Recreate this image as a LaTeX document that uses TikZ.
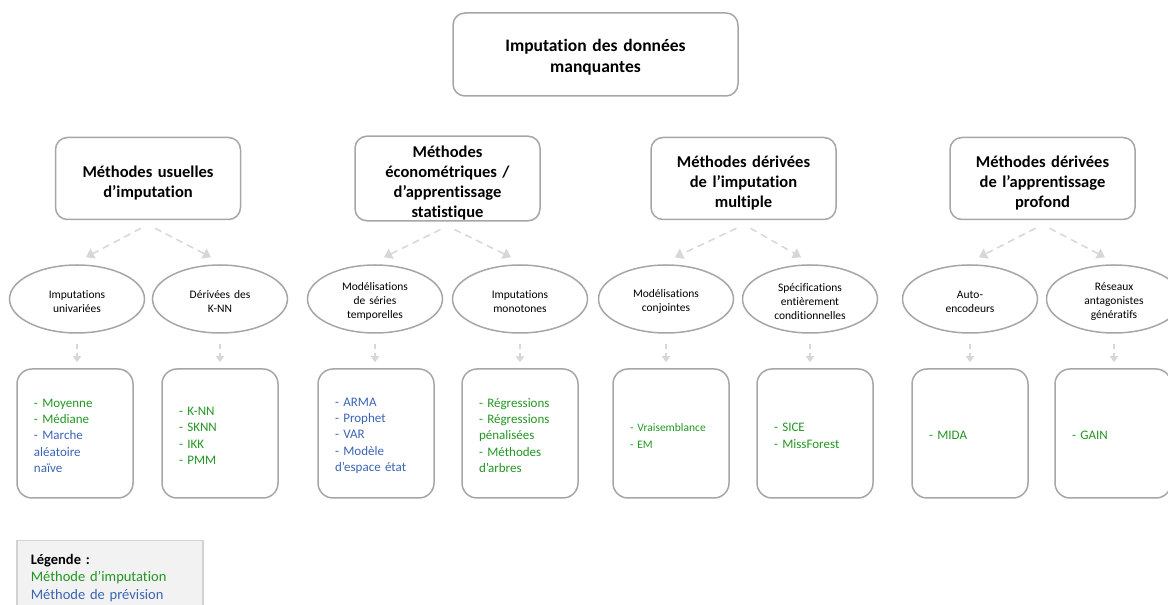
\documentclass[tikz,border=0pt]{standalone}
\usepackage{fontspec}
\setmainfont{Carlito}[Ligatures=NoCommon]
\usetikzlibrary{arrows.meta,positioning,shapes.geometric,calc}
\definecolor{imputgreen}{RGB}{34,150,34}
\definecolor{previsblue}{RGB}{58,100,180}
\definecolor{boxgray}{RGB}{166,166,166}
\definecolor{arrowgray}{RGB}{215,215,215}
\definecolor{legendfill}{RGB}{242,242,242}
\newcommand{\imput}[1]{\textcolor{imputgreen}{#1}}
\newcommand{\previs}[1]{\textcolor{previsblue}{#1}}

\begin{document}
\begin{tikzpicture}[
  x=1pt, y=1pt,
  root/.style={rectangle, draw=boxgray, line width=1.5pt,
    rounded corners=12pt, minimum width=285pt, minimum height=83pt,
    text width=260pt, text height=18pt, align=center,
    font=\fontsize{17.5}{21.5}\selectfont\bfseries},
  family/.style={rectangle, draw=boxgray, line width=1.5pt,
    rounded corners=12pt, minimum width=185pt, minimum height=82pt,
    text width=175pt, text height=20pt, inner sep=1pt, align=center,
    font=\fontsize{16.5}{20}\selectfont\bfseries},
  sub/.style={ellipse, draw=boxgray, line width=1.5pt,
    minimum width=135pt, minimum height=68pt, inner sep=0pt,
    text width=95pt, text height=13pt, align=center,
    font=\fontsize{11.5}{14}\selectfont},
  list/.style={rectangle, draw=boxgray, line width=1.5pt,
    rounded corners=15pt, minimum width=116pt, minimum height=129pt,
    text width=82pt, text height=13pt, align=left,
    font=\fontsize{13}{16.3}\selectfont},
  legend/.style={rectangle, draw={rgb,255:red,210;green,210;blue,210},
    fill=legendfill, line width=1.5pt, text width=158pt, inner xsep=14pt,
    minimum height=74pt, align=left, font=\fontsize{14.5}{17.5}\selectfont},
  arr/.style={-{Triangle[length=8pt,width=11pt]}, draw=arrowgray,
    line width=1.5pt, dash pattern=on 7pt off 5pt},
  darr/.style={-{Triangle[length=6pt,width=8pt]}, draw=arrowgray,
    line width=1.2pt, dash pattern=on 5pt off 4pt}
]
  \useasboundingbox (0,0) rectangle (1168,605);

  % Root
  \node[root] (root) at (595.5,550.5) {Imputation des données\\manquantes};

  % Families of methods
  \node[family] (usual) at (148,426.5) {Méthodes usuelles\\d’imputation};
  \node[family] (econo) at (447.5,426.5) {Méthodes\\économétriques /\\d’apprentissage\\statistique};
  \node[family] (multi) at (743.5,426.5) {Méthodes dérivées\\de l’imputation\\multiple};
  \node[family] (deep) at (1042.5,426.5) {Méthodes dérivées\\de l’apprentissage\\profond};

  % Sub-families
  \node[sub] (univ) at (77,306) {Imputations\\univariées};
  \node[sub] (knn) at (220,306) {Dérivées des\\K-NN};
  \node[sub] (series) at (375,306) {Modélisations\\de séries\\temporelles};
  \node[sub] (mono) at (520,306) {Imputations\\monotones};
  \node[sub] (joint) at (666,306) {Modélisations\\conjointes};
  \node[sub] (fcs) at (810,306) {Spécifications\\entièrement\\conditionnelles};
  \node[sub] (autoenc) at (970,306) {Auto-\\encodeurs};
  \node[sub] (gan) at (1114,306) {Réseaux\\antagonistes\\génératifs};

  % Method lists
  \node[list] (univlist) at (75,171.5) {\imput{- Moyenne}\\\imput{- Médiane}\\\previs{- Marche\\aléatoire\\naïve}};
  \node[list] (knnlist) at (220,171.5) {\imput{- K-NN\\- SKNN\\- IKK\\- PMM}};
  \node[list] (serieslist) at (376,171.5) {\previs{- ARMA\\- Prophet\\- VAR\\- Modèle\\d’espace état}};
  \node[list] (monolist) at (520,171.5) {\imput{- Régressions\\- Régressions\\pénalisées\\- Méthodes\\d’arbres}};
  \node[list, font=\fontsize{11.5}{16.5}\selectfont] (jointlist) at (671,171.5) {\imput{- Vraisemblance\\- EM}};
  \node[list] (fcslist) at (815,171.5) {\imput{- SICE\\- MissForest}};
  \node[list] (autoenclist) at (970,171.5) {\imput{- MIDA}};
  \node[list] (ganlist) at (1113,171.5) {\imput{- GAIN}};

  % Legend
  \node[legend, anchor=north west] (legend) at (16,65) {\textbf{Légende :}\\\imput{Méthode d’imputation}\\\previs{Méthode de prévision}};

  % Arrows
  \foreach \fam/\lsub/\rsub in {usual/univ/knn, econo/series/mono, multi/joint/fcs, deep/autoenc/gan} {
    \draw[arr] ($(\fam.south)+(-7,-8)$) -- ($(\lsub.north)+(9,7)$);
    \draw[arr] ($(\fam.south)+(7,-8)$) -- ($(\rsub.north)+(-9,7)$);
  }
  \foreach \sub/\lst in {univ/univlist, knn/knnlist, series/serieslist, mono/monolist,
    joint/jointlist, fcs/fcslist, autoenc/autoenclist, gan/ganlist} {
    \draw[darr] ($(\sub.south)+(0,-10)$) -- ($(\sub.south |- \lst.north)+(0,6)$);
  }
\end{tikzpicture}
\end{document}
